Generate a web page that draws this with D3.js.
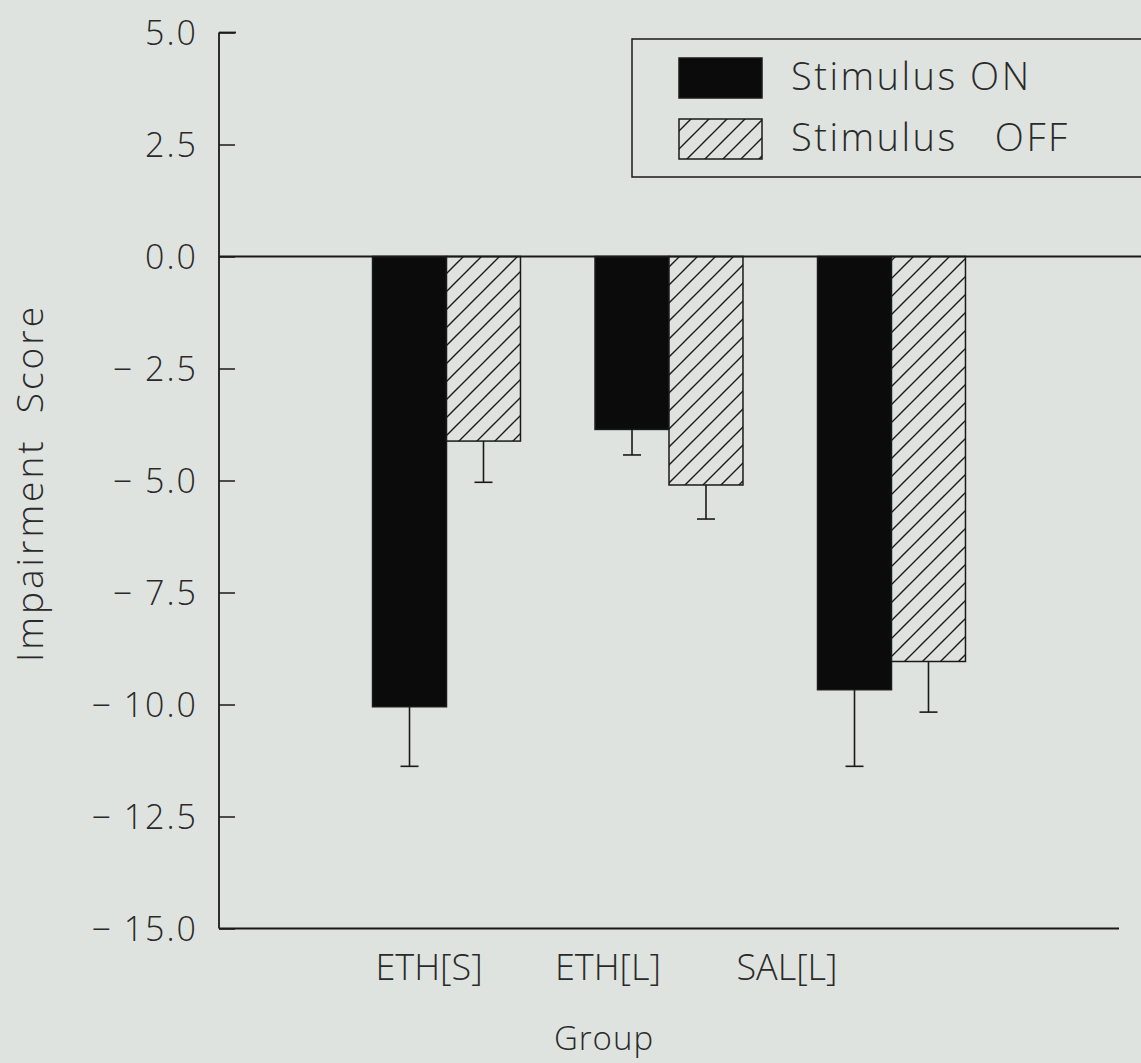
<!DOCTYPE html>
<html>
<head>
<meta charset="utf-8">
<script src="https://cdn.jsdelivr.net/npm/d3@7"></script>
<style>
  html, body { margin: 0; padding: 0; background: #dfe3df; }
  svg { display: block; }
  text { font-family: "Open Sans", "DejaVu Sans", sans-serif; font-weight: 300; fill: #2a2a2a; }
</style>
</head>
<body>
<svg id="chart" width="1141" height="1063"></svg>
<script>
// Groups and the two stimulus conditions
const groups = ["ETH[S]", "ETH[L]", "SAL[L]"];
const series = ["Stimulus ON", "Stimulus   OFF"];
// Mean impairment scores per group (ON, OFF)
const onValues  = [-10.05, -3.86, -9.67];
const offValues = [-4.12, -5.10, -9.04];
// Error bar lengths (drawn downward from the bar end)
const onErrors  = [1.33, 0.57, 1.71];
const offErrors = [0.92, 0.76, 1.13];
// Y axis ticks
const yTicks = [5.0, 2.5, 0.0, -2.5, -5.0, -7.5, -10.0, -12.5, -15.0];

const svg = d3.select("#chart");
const W = 1141, H = 1063;

const y = d3.scaleLinear().domain([-15, 5]).range([928.5, 32.5]);
const xAxisLeft = 219, xAxisRight = 1119;

const x0 = d3.scaleBand().domain(groups).range([xAxisLeft, xAxisRight])
  .paddingInner(0.335).paddingOuter(0.69);
const x1 = d3.scaleBand().domain(series).range([0, x0.bandwidth()]);

// Category labels sit on their own evenly spaced scale
const xLabel = d3.scalePoint().domain(groups).range([429, 787]);

// Hatch pattern for the OFF bars
const defs = svg.append("defs");
const pat = defs.append("pattern")
  .attr("id", "hatch")
  .attr("patternUnits", "userSpaceOnUse")
  .attr("width", 18).attr("height", 18);
pat.append("rect").attr("width", 18).attr("height", 18).attr("fill", "#dfe3df");
pat.append("path")
  .attr("d", "M-4.5,4.5 L4.5,-4.5 M0,18 L18,0 M13.5,22.5 L22.5,13.5")
  .attr("stroke", "#1a1a1a").attr("stroke-width", 1.4);

const ink = "#1a1a1a";

// Y axis with inward ticks
const yAxis = d3.axisRight(y).tickValues(yTicks).tickSize(16).tickFormat("");
const gy = svg.append("g").attr("transform", `translate(${xAxisLeft},0)`).call(yAxis);
gy.select(".domain").remove();
gy.selectAll(".tick line").attr("stroke", ink).attr("stroke-width", 1.5);
svg.append("line")
  .attr("x1", xAxisLeft).attr("x2", xAxisLeft)
  .attr("y1", y(5)).attr("y2", y(-15))
  .attr("stroke", ink).attr("stroke-width", 1.8);
svg.append("line")
  .attr("x1", xAxisLeft).attr("x2", xAxisLeft + 17)
  .attr("y1", y(5)).attr("y2", y(5))
  .attr("stroke", ink).attr("stroke-width", 1.8);

// Tick labels
svg.append("g").selectAll("text").data(yTicks).join("text")
  .attr("x", 198).attr("y", d => y(d))
  .attr("dy", "0.36em")
  .attr("text-anchor", "end")
  .attr("font-size", 34)
  .attr("letter-spacing", 2)
  .style("white-space", "pre")
  .text(d => (d < 0 ? "\u2212 " : "") + Math.abs(d).toFixed(1));

// Bottom axis line
svg.append("line")
  .attr("x1", xAxisLeft).attr("x2", xAxisRight)
  .attr("y1", y(-15)).attr("y2", y(-15))
  .attr("stroke", ink).attr("stroke-width", 1.8);

// Bars
const rows = groups.map((g, i) => ([
  { g, s: series[0], v: onValues[i], e: onErrors[i] },
  { g, s: series[1], v: offValues[i], e: offErrors[i] }
])).flat();

const bars = svg.append("g");
bars.selectAll("rect").data(rows).join("rect")
  .attr("x", d => x0(d.g) + x1(d.s))
  .attr("y", y(0))
  .attr("width", x1.bandwidth())
  .attr("height", d => y(d.v) - y(0))
  .attr("fill", d => d.s === series[0] ? "#0b0b0b" : "url(#hatch)")
  .attr("stroke", ink)
  .attr("stroke-width", 1.5);

// Error bars
const err = svg.append("g").attr("stroke", ink).attr("stroke-width", 1.6);
err.selectAll("line.v").data(rows).join("line").attr("class", "v")
  .attr("x1", d => x0(d.g) + x1(d.s) + x1.bandwidth() / 2)
  .attr("x2", d => x0(d.g) + x1(d.s) + x1.bandwidth() / 2)
  .attr("y1", d => y(d.v)).attr("y2", d => y(d.v - d.e));
err.selectAll("line.c").data(rows).join("line").attr("class", "c")
  .attr("x1", d => x0(d.g) + x1(d.s) + x1.bandwidth() / 2 - 9)
  .attr("x2", d => x0(d.g) + x1(d.s) + x1.bandwidth() / 2 + 9)
  .attr("y1", d => y(d.v - d.e)).attr("y2", d => y(d.v - d.e));

// Zero line across the plot
svg.append("line")
  .attr("x1", xAxisLeft).attr("x2", W)
  .attr("y1", y(0)).attr("y2", y(0))
  .attr("stroke", ink).attr("stroke-width", 1.8);

// Category labels
svg.append("g").selectAll("text").data(groups).join("text")
  .attr("x", d => xLabel(d)).attr("y", 980)
  .attr("text-anchor", "middle")
  .attr("font-size", 36)
  .text(d => d);

// Axis titles
svg.append("text")
  .attr("x", 604).attr("y", 1050)
  .attr("text-anchor", "middle")
  .attr("font-size", 33)
  .attr("letter-spacing", 1)
  .text("Group");
svg.append("text")
  .attr("transform", "translate(43,483) rotate(-90)")
  .attr("text-anchor", "middle")
  .attr("font-size", 37)
  .attr("letter-spacing", 3)
  .style("white-space", "pre")
  .text("Impairment  Score");

// Legend
const legend = svg.append("g");
legend.append("rect")
  .attr("x", 632).attr("y", 39).attr("width", 540).attr("height", 138)
  .attr("fill", "none").attr("stroke", ink).attr("stroke-width", 1.5);
const legY = d3.scalePoint().domain(series).range([58, 119]);
legend.selectAll("rect.sw").data(series).join("rect").attr("class", "sw")
  .attr("x", 679).attr("y", d => legY(d))
  .attr("width", 83).attr("height", 40)
  .attr("fill", (d, i) => i === 0 ? "#0b0b0b" : "url(#hatch)")
  .attr("stroke", ink).attr("stroke-width", 1.5);
legend.selectAll("text").data(series).join("text")
  .attr("x", 791).attr("y", d => legY(d) + 32)
  .attr("font-size", 38)
  .attr("letter-spacing", 2.5)
  .style("white-space", "pre")
  .text(d => d);
</script>
</body>
</html>
